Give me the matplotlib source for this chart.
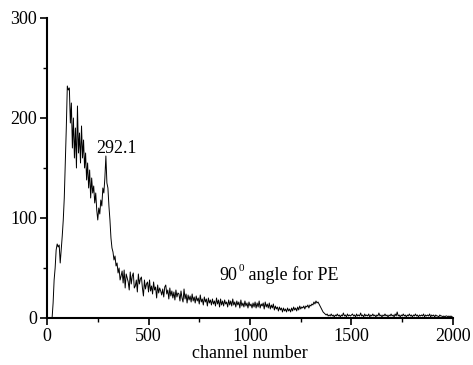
import numpy as np
import matplotlib
matplotlib.use("Agg")
import matplotlib.pyplot as plt
from matplotlib.ticker import MultipleLocator
from matplotlib.transforms import offset_copy

plt.rcParams['font.family'] = ['Liberation Serif', 'DejaVu Serif']

channel_step = 5
counts = [
    0, 0, 0, 0, 0, 0, 15, 38, 50, 68,
    74, 71, 73, 55, 68, 82, 98, 120, 155, 190,
    232, 228, 230, 195, 215, 170, 200, 160, 190, 150,
    212, 165, 185, 155, 192, 160, 178, 150, 165, 138,
    155, 130, 148, 120, 140, 125, 132, 115, 125, 108,
    98, 110, 104, 118, 112, 130, 125, 140, 162, 135,
    130, 112, 98, 80, 70, 66, 58, 62, 52, 55,
    45, 50, 38, 42, 47, 35, 48, 30, 44, 40,
    36, 28, 46, 34, 42, 45, 30, 32, 38, 26,
    44, 34, 39, 41, 30, 22, 38, 29, 34, 36,
    26, 38, 27, 32, 24, 36, 28, 31, 20, 33,
    25, 30, 27, 23, 29, 21, 31, 33, 24, 28,
    19, 30, 22, 27, 20, 26, 18, 28, 21, 25,
    24, 17, 27, 20, 16, 29, 19, 24, 15, 23,
    18, 22, 16, 24, 17, 21, 15, 22, 17, 20,
    14, 23, 16, 19, 13, 21, 16, 19, 12, 20,
    15, 18, 13, 19, 14, 17, 12, 20, 14, 18,
    11, 19, 13, 17, 12, 18, 14, 16, 11, 18,
    13, 17, 12, 19, 13, 16, 11, 17, 13, 16,
    10, 18, 12, 15, 11, 17, 12, 15, 10, 16,
    12, 14, 10, 15, 11, 16, 10, 15, 11, 17,
    10, 14, 12, 15, 9, 16, 11, 14, 10, 15,
    9, 13, 10, 14, 8, 12, 9, 11, 7, 11,
    8, 10, 6, 10, 7, 9, 6, 10, 7, 9,
    6, 10, 7, 11, 8, 10, 7, 11, 8, 12,
    9, 11, 10, 12, 9, 12, 11, 13, 10, 13,
    12, 14, 13, 16, 14, 17, 15, 16, 14, 12,
    10, 8, 6, 5, 4, 3, 4, 2, 3, 2,
    4, 2, 3, 1, 3, 2, 4, 2, 3, 1,
    3, 2, 5, 2, 3, 1, 4, 2, 3, 2,
    3, 4, 2, 3, 1, 4, 2, 3, 2, 5,
    2, 3, 1, 4, 2, 3, 2, 4, 1, 3,
    2, 4, 2, 3, 1, 3, 2, 5, 2, 3,
    1, 3, 2, 4, 2, 3, 1, 3, 2, 4,
    2, 3, 1, 4, 2, 6, 2, 3, 1, 3,
    2, 4, 2, 3, 1, 3, 2, 4, 2, 3,
    1, 3, 2, 4, 2, 3, 1, 3, 2, 3,
    2, 4, 1, 3, 2, 3, 2, 4, 1, 3,
    2, 3, 1, 3, 2, 2, 1, 3, 2, 2,
    1, 2, 1, 2, 2, 1, 2, 1, 2, 1,
    1,
]
channels = np.arange(len(counts)) * channel_step

peak_label = "292.1"
peak_pos = (245, 161)
note_number = "90"
note_sup = "0"
note_rest = " angle for PE"
note_pos = (848, 38)
x_ticks = [0, 500, 1000, 1500, 2000]
y_ticks = [0, 100, 200, 300]

fig = plt.figure(figsize=(4.73, 3.65), dpi=100)
ax = fig.add_axes([0.0994, 0.1288, 0.8583, 0.8219])
ax.plot(channels, counts, color='black', lw=0.7)

ax.set_xlim(0, 2000)
ax.set_ylim(0, 300)
ax.set_xticks(x_ticks)
ax.set_yticks(y_ticks)
ax.xaxis.set_minor_locator(MultipleLocator(250))
ax.yaxis.set_minor_locator(MultipleLocator(50))
for s in ['top', 'right']:
    ax.spines[s].set_visible(False)
for s in ['left', 'bottom']:
    ax.spines[s].set_linewidth(1.5)
ax.tick_params(which='major', direction='out', length=5, width=1.2, labelsize=13, pad=2)
ax.tick_params(which='minor', direction='out', length=3, width=1.0)
ax.set_xlabel("channel number", fontsize=13, labelpad=0)

ax.text(peak_pos[0], peak_pos[1], peak_label, fontsize=13, ha='left', va='bottom')

# "90" + raised small "0" + " angle for PE"
t1 = ax.text(note_pos[0], note_pos[1], note_number, fontsize=13, ha='left', va='baseline')
fig.canvas.draw()
bb = t1.get_window_extent()
tr = offset_copy(ax.transData, fig=fig, x=bb.width + 1.5, y=9, units='dots')
t2 = ax.text(note_pos[0], note_pos[1], note_sup, fontsize=8, ha='left', va='baseline', transform=tr)
fig.canvas.draw()
bb2 = t2.get_window_extent()
tr2 = offset_copy(ax.transData, fig=fig, x=bb.width + 1.5 + bb2.width, y=0, units='dots')
ax.text(note_pos[0], note_pos[1], note_rest, fontsize=13, ha='left', va='baseline', transform=tr2)

fig.savefig("out.png", dpi=100)
